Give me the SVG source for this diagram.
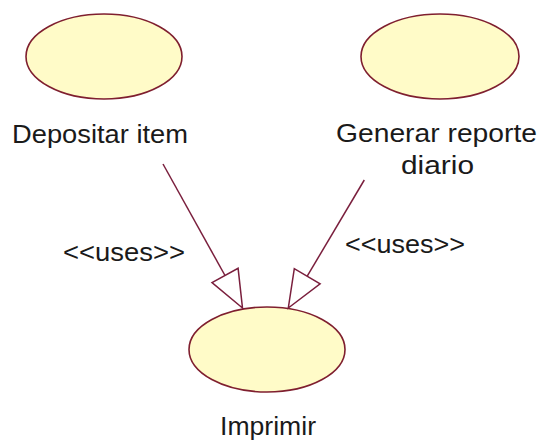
<svg xmlns="http://www.w3.org/2000/svg" width="544" height="444" viewBox="0 0 544 444">
<style>
.uc{fill:#fffbc8;stroke:#7f1f2f;stroke-width:1.6}
.lbl{font-family:"Liberation Sans",Arial,sans-serif;font-size:25px;fill:#1a1a1a}
.st{font-family:"Liberation Sans",Arial,sans-serif;font-size:25px;fill:#1a1a1a}
.ln{stroke:#7a1f3d;stroke-width:1.5;fill:none}
.ah{stroke:#7a1f3d;stroke-width:1.5;fill:#ffffff}
</style>
<rect width="544" height="444" fill="#ffffff"/>
<g id="depositar">
<ellipse class="uc" cx="104" cy="56.5" rx="78" ry="42.5"/>
<text class="lbl" x="12" y="143" textLength="176" lengthAdjust="spacingAndGlyphs">Depositar item</text>
</g>
<g id="generar">
<ellipse class="uc" cx="440" cy="56.5" rx="79" ry="42.5"/>
<text class="lbl" x="336" y="141.5" textLength="201" lengthAdjust="spacingAndGlyphs">Generar reporte</text>
<text class="lbl" x="401" y="173.5" textLength="73" lengthAdjust="spacingAndGlyphs">diario</text>
</g>
<g id="imprimir">
<ellipse class="uc" cx="267" cy="349.5" rx="78" ry="42.5"/>
<text class="lbl" x="220" y="435" textLength="96" lengthAdjust="spacingAndGlyphs">Imprimir</text>
</g>
<g id="connectors">
<line class="ln" x1="163" y1="164" x2="225" y2="275.5"/>
<polygon class="ah" points="242.5,308 212,282.7 238.1,268.3"/>
<text class="st" x="63" y="261" textLength="122" lengthAdjust="spacingAndGlyphs">&lt;&lt;uses&gt;&gt;</text>
<line class="ln" x1="364.3" y1="180" x2="307.2" y2="276.2"/>
<polygon class="ah" points="288.3,308 320.1,283.9 294.3,268.6"/>
<text class="st" x="345" y="253" textLength="120" lengthAdjust="spacingAndGlyphs">&lt;&lt;uses&gt;&gt;</text>
</g>
</svg>
